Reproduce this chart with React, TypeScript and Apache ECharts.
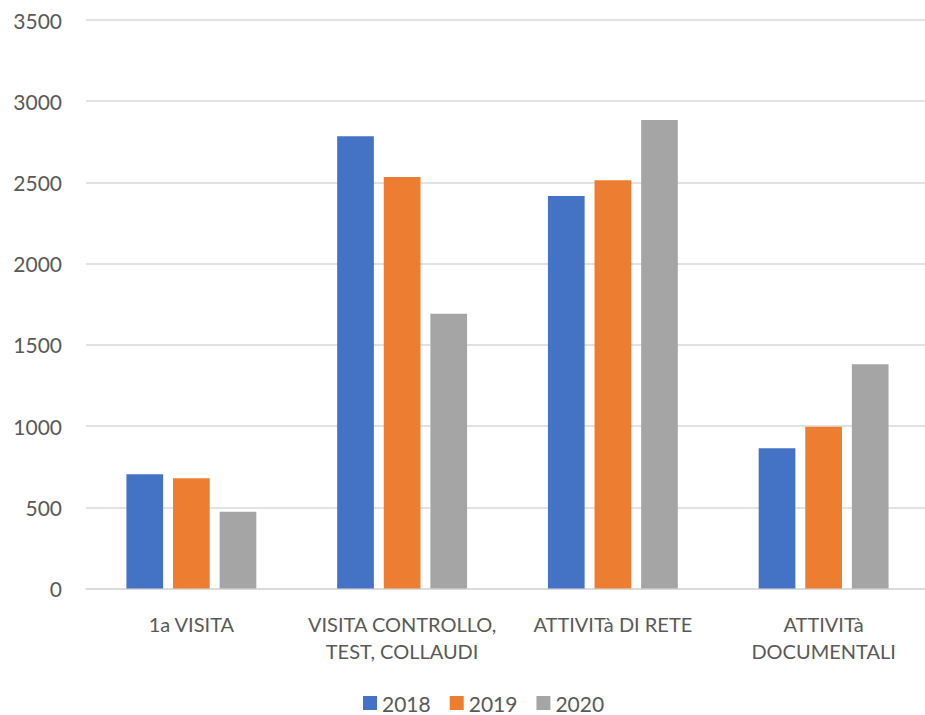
import React, { useEffect, useRef } from "react";
import * as echarts from "echarts";

const categories = [
  "1a VISITA",
  "VISITA CONTROLLO,\nTEST, COLLAUDI",
  "ATTIVITà DI RETE",
  "ATTIVITà\nDOCUMENTALI",
];
const seriesNames = ["2018", "2019", "2020"];
const values2018 = [703, 2784, 2417, 863];
const values2019 = [678, 2534, 2513, 996];
const values2020 = [473, 1692, 2885, 1380];
const colors = ["#4472C4", "#ED7D31", "#A5A5A5"];

export default function App() {
  const ref = useRef<HTMLDivElement>(null);
  useEffect(() => {
    if (!ref.current) return;
    const chart = echarts.init(ref.current, undefined, { renderer: "svg" });
    const font = "Lato, 'Open Sans', sans-serif";
    const data = [values2018, values2019, values2020];
    chart.setOption({
      animation: false,
      textStyle: { fontFamily: font },
      grid: {
        left: 86,
        top: 20,
        width: 843,
        height: 568.5,
        containLabel: false,
        outerBoundsMode: "none",
      },
      legend: {
        data: seriesNames,
        left: 363,
        top: 692,
        padding: 0,
        itemWidth: 14,
        itemHeight: 14,
        itemGap: 19,
        icon: "rect",
        textStyle: { fontFamily: font, fontSize: 21, color: "#595959", lineHeight: 22 },
      },
      xAxis: {
        type: "category",
        data: categories,
        axisLine: { show: true, lineStyle: { color: "#d9d9d9", width: 1.5 } },
        axisTick: { show: false },
        axisLabel: {
          interval: 0,
          fontFamily: font,
          fontSize: 20,
          color: "#595959",
          margin: 22,
          lineHeight: 27,
        },
      },
      yAxis: {
        type: "value",
        min: 0,
        max: 3500,
        interval: 500,
        axisLine: { show: false },
        axisTick: { show: false },
        splitLine: { lineStyle: { color: "#d9d9d9", width: 1.5 } },
        axisLabel: {
          fontFamily: font,
          fontSize: 21,
          color: "#595959",
          margin: 24,
          formatter: (v: number) => String(v),
        },
      },
      series: seriesNames.map((name, i) => ({
        name,
        type: "bar",
        data: data[i],
        barWidth: 36.7,
        barGap: "27%",
        itemStyle: { color: colors[i] },
      })),
    });
    return () => chart.dispose();
  }, []);
  return (
    <div
      ref={ref}
      style={{ position: "fixed", left: 0, top: 0, width: 925, height: 715, background: "#fff" }}
    />
  );
}
